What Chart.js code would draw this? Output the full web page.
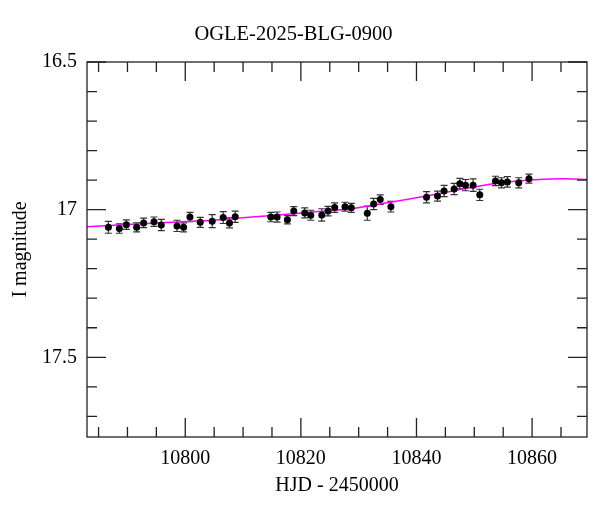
<!DOCTYPE html>
<html>
<head>
<meta charset="utf-8">
<script src="https://cdn.jsdelivr.net/npm/chart.js@4"></script>
<style>
  html, body { margin: 0; padding: 0; background: #fff; }
  canvas { display: block; }
</style>
</head>
<body>
<canvas id="lc" width="600" height="512"></canvas>
<script>
// OGLE photometry (HJD - 2450000, I mag, error)
const hjd = [10786.70, 10788.60, 10789.81, 10791.59, 10792.80, 10794.59, 10795.85, 10798.57, 10799.71, 10800.81,
             10802.59, 10804.66, 10806.56, 10807.65, 10808.64, 10814.80, 10815.89, 10817.67, 10818.77, 10820.67,
             10821.71, 10823.61, 10824.70, 10825.85, 10827.63, 10828.72, 10831.49, 10832.59, 10833.73, 10835.58,
             10841.74, 10843.64, 10844.78, 10846.51, 10847.50, 10848.48, 10849.79, 10850.95, 10853.66, 10854.70,
             10855.73, 10857.69, 10859.46];
const mag = [17.060, 17.064, 17.051, 17.060, 17.045, 17.041, 17.052, 17.055, 17.060, 17.025,
             17.043, 17.039, 17.027, 17.045, 17.024, 17.025, 17.025, 17.034, 17.005, 17.011,
             17.019, 17.018, 17.005, 16.993, 16.990, 16.994, 17.012, 16.981, 16.966, 16.990,
             16.958, 16.954, 16.937, 16.930, 16.912, 16.917, 16.917, 16.950, 16.903, 16.909,
             16.906, 16.909, 16.895];
const magErr = [0.020, 0.016, 0.016, 0.015, 0.016, 0.016, 0.019, 0.019, 0.015, 0.016,
                0.017, 0.022, 0.020, 0.017, 0.019, 0.016, 0.017, 0.014, 0.015, 0.017,
                0.017, 0.021, 0.016, 0.016, 0.015, 0.015, 0.024, 0.019, 0.016, 0.018,
                0.019, 0.017, 0.019, 0.019, 0.018, 0.019, 0.021, 0.019, 0.016, 0.017,
                0.018, 0.017, 0.015];

// model curve
const modelHjd = [10783, 10790, 10796, 10803, 10809, 10815, 10822, 10829, 10835, 10841, 10847, 10853, 10858, 10863, 10866, 10869.5];
const modelMag = [17.058, 17.050, 17.044, 17.038, 17.029, 17.020, 17.008, 16.996, 16.977, 16.956, 16.934, 16.913, 16.902, 16.896, 16.895, 16.898];

const xTicks = [10800, 10820, 10840, 10860];
const yTicks = [16.5, 17, 17.5];
const xMinor = [10785, 10790, 10795, 10805, 10810, 10815, 10825, 10830, 10835, 10845, 10850, 10855, 10865];
const yMinor = [16.6, 16.7, 16.8, 16.9, 17.1, 17.2, 17.3, 17.4, 17.6, 17.7];

const FONT = "'Liberation Serif', 'Times New Roman', serif";

// error bars under the points
const errorBars = {
    id: 'errorBars',
    beforeDatasetsDraw(chart) {
        const { ctx, scales: { x, y } } = chart;
        ctx.save();
        ctx.strokeStyle = '#333';
        ctx.lineWidth = 1.2;
        hjd.forEach((t, i) => {
            const px = x.getPixelForValue(t);
            const top = y.getPixelForValue(mag[i] - magErr[i]);
            const bot = y.getPixelForValue(mag[i] + magErr[i]);
            ctx.beginPath();
            ctx.moveTo(px, top); ctx.lineTo(px, bot);
            ctx.moveTo(px - 3.5, top); ctx.lineTo(px + 3.5, top);
            ctx.moveTo(px - 3.5, bot); ctx.lineTo(px + 3.5, bot);
            ctx.stroke();
        });
        ctx.restore();
    }
};

// box with inward ticks on all four sides
const frameTicks = {
    id: 'frameTicks',
    afterDraw(chart) {
        const { ctx, chartArea: a, scales: { x, y } } = chart;
        ctx.save();
        ctx.strokeStyle = '#222';
        ctx.lineWidth = 1.3;
        ctx.strokeRect(a.left, a.top, a.right - a.left, a.bottom - a.top);
        ctx.beginPath();
        const xt = (v, len) => {
            const px = x.getPixelForValue(v);
            ctx.moveTo(px, a.bottom); ctx.lineTo(px, a.bottom - len);
            ctx.moveTo(px, a.top); ctx.lineTo(px, a.top + len);
        };
        const yt = (v, len) => {
            const py = y.getPixelForValue(v);
            ctx.moveTo(a.left, py); ctx.lineTo(a.left + len, py);
            ctx.moveTo(a.right, py); ctx.lineTo(a.right - len, py);
        };
        xTicks.forEach(v => xt(v, 19));
        xMinor.forEach(v => xt(v, 10));
        yTicks.forEach(v => yt(v, 19));
        yMinor.forEach(v => yt(v, 10));
        ctx.stroke();
        ctx.restore();
    }
};

new Chart(document.getElementById('lc'), {
    type: 'scatter',
    data: {
        datasets: [
            {
                data: hjd.map((t, i) => ({ x: t, y: mag[i] })),
                backgroundColor: '#000',
                borderColor: '#000',
                pointRadius: 3.5,
                borderWidth: 0
            },
            {
                data: modelHjd.map((t, i) => ({ x: t, y: modelMag[i] })),
                showLine: true,
                borderColor: '#ff00ff',
                borderWidth: 1.5,
                pointRadius: 0,
                cubicInterpolationMode: 'monotone'
            }
        ]
    },
    options: {
        responsive: false,
        animation: false,
        devicePixelRatio: 1,
        layout: { padding: { left: 0, right: 13, top: 0, bottom: 0 } },
        plugins: {
            legend: { display: false },
            tooltip: { enabled: false },
            title: {
                display: true,
                text: 'OGLE-2025-BLG-0900',
                color: '#000',
                font: { family: FONT, size: 20.5, weight: 'normal', lineHeight: 1.2 },
                padding: { top: 22, bottom: 15.4 }
            }
        },
        scales: {
            x: {
                type: 'linear',
                min: 10783,
                max: 10869.5,
                grid: { display: false, drawTicks: false },
                border: { display: false },
                afterBuildTicks: s => { s.ticks = xTicks.map(v => ({ value: v })); },
                afterFit: s => { s.height = 75; },
                ticks: {
                    color: '#000',
                    padding: 10,
                    maxRotation: 0,
                    font: { family: FONT, size: 20 },
                    callback: v => String(v)
                },
                title: {
                    display: true,
                    text: 'HJD - 2450000',
                    color: '#000',
                    font: { family: FONT, size: 20, lineHeight: 1.2 },
                    padding: { top: 0, bottom: 14 }
                }
            },
            y: {
                type: 'linear',
                reverse: true,
                min: 16.5,
                max: 17.77,
                grid: { display: false, drawTicks: false },
                border: { display: false },
                afterBuildTicks: s => { s.ticks = yTicks.map(v => ({ value: v })); },
                afterFit: s => { s.width = 87; },
                ticks: {
                    color: '#000',
                    padding: 10,
                    font: { family: FONT, size: 20 },
                    callback: v => String(v)
                },
                title: {
                    display: true,
                    text: 'I magnitude',
                    color: '#000',
                    font: { family: FONT, size: 20, lineHeight: 1.2 },
                    padding: { top: 9, bottom: 0 }
                }
            }
        }
    },
    plugins: [errorBars, frameTicks]
});
</script>
</body>
</html>
